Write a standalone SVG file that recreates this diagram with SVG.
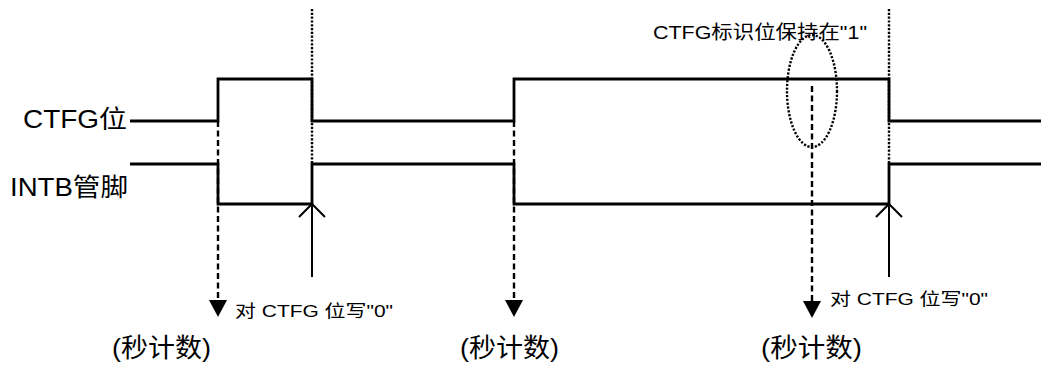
<svg xmlns="http://www.w3.org/2000/svg" width="1041" height="365" viewBox="0 0 1041 365">
<style>
.sig{fill:none;stroke:#000;stroke-width:2.8;stroke-linejoin:miter}
.dash{fill:none;stroke:#000;stroke-width:2.4;stroke-dasharray:6 3.5}
.dot{fill:none;stroke:#000;stroke-width:2.4;stroke-dasharray:2.2 1.6}
.up{fill:none;stroke:#000;stroke-width:2}
.tri{fill:#000}
text{font-family:"Liberation Sans","Noto Sans CJK SC",sans-serif;fill:#000}
.lbl{font-size:25px}
.cnt{font-size:26px}
.sm{font-size:17px}
.top{font-size:19px}
</style>
<rect width="1041" height="365" fill="#fff"/>
<g id="signals">
<path id="ctfg-signal" class="sig" d="M130,121 H218 V79 H312 V121 H514 V79 H889 V121 H1041"/>
<path id="intb-signal" class="sig" d="M130,164 H218 V204 H312 V164 H514 V204 H889 V164 H1041"/>
</g>
<g id="connectors">
<line class="dot" x1="312" y1="9" x2="312" y2="164"/>
<line class="dot" x1="889" y1="9" x2="889" y2="164"/>
<line class="dash" x1="218" y1="121" x2="218" y2="302"/>
<polygon class="tri" points="209,300 227,300 218,317"/>
<line class="dash" x1="514" y1="121" x2="514" y2="302"/>
<polygon class="tri" points="505,300 523,300 514,317"/>
<line class="dash" x1="812" y1="86" x2="812" y2="303"/>
<polygon class="tri" points="803,301 821,301 812,318"/>
<line class="up" x1="312" y1="277" x2="312" y2="206"/>
<polyline class="up" points="299,217 312,204 325,217"/>
<line class="up" x1="889" y1="277" x2="889" y2="206"/>
<polyline class="up" points="876,217 889,204 902,217"/>
<ellipse class="dot" cx="812" cy="91" rx="25" ry="56"/>
</g>
<g id="label-ctfg"><text class="lbl" x="23" y="128" textLength="104" lengthAdjust="spacingAndGlyphs">CTFG位</text></g>
<g id="label-intb"><text class="lbl" x="10" y="196" textLength="118" lengthAdjust="spacingAndGlyphs">INTB管脚</text></g>
<g id="label-hold"><text class="top" x="653" y="39" textLength="214" lengthAdjust="spacingAndGlyphs">CTFG标识位保持在"1"</text></g>
<g id="label-write1"><text class="sm" x="235" y="317" textLength="158" lengthAdjust="spacingAndGlyphs">对 CTFG 位写"0"</text></g>
<g id="label-write2"><text class="sm" x="830" y="305" textLength="158" lengthAdjust="spacingAndGlyphs">对 CTFG 位写"0"</text></g>
<g id="count1"><text class="cnt" x="112" y="357" textLength="99" lengthAdjust="spacingAndGlyphs">(秒计数)</text></g>
<g id="count2"><text class="cnt" x="460" y="357" textLength="99" lengthAdjust="spacingAndGlyphs">(秒计数)</text></g>
<g id="count3"><text class="cnt" x="761" y="357" textLength="101" lengthAdjust="spacingAndGlyphs">(秒计数)</text></g>
</svg>
